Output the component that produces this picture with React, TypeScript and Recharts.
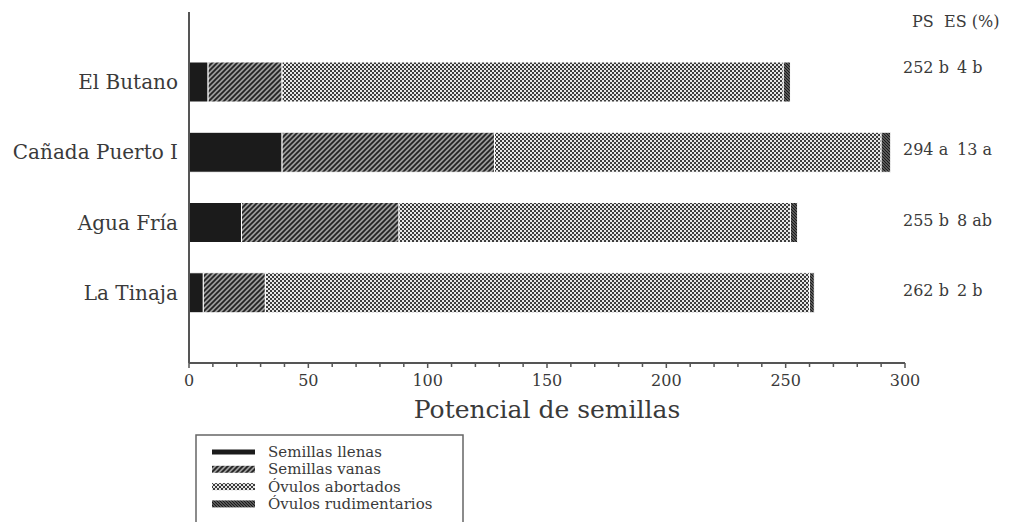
import React from "react";
import { BarChart, Bar, XAxis, YAxis, LabelList } from "recharts";

const sitios = ["El Butano", "Cañada Puerto I", "Agua Fría", "La Tinaja"];
const semillasLlenas = [8, 39, 22, 6];
const semillasVanas = [31, 89, 66, 26];
const ovulosAbortados = [210, 162, 164, 228];
const ovulosRudimentarios = [3, 4, 3, 2];
const potencialSemillas = ["252 b", "294 a", "255 b", "262 b"];
const eficienciaSemillas = ["4 b", "13 a", "8 ab", "2 b"];
const xTicks = [0, 10, 20, 30, 40, 50, 60, 70, 80, 90, 100, 110, 120, 130, 140, 150, 160, 170, 180, 190, 200, 210, 220, 230, 240, 250, 260, 270, 280, 290, 300];
const xTickLabels = [0, 50, 100, 150, 200, 250, 300];

const series = [
  { key: "llenas", name: "Semillas llenas", fill: "#1b1b1b" },
  { key: "vanas", name: "Semillas vanas", fill: "url(#pat-vanas)" },
  { key: "abortados", name: "Óvulos abortados", fill: "url(#pat-abortados)" },
  { key: "rudimentarios", name: "Óvulos rudimentarios", fill: "url(#pat-rudim)" },
];

const data = sitios.map((name, i) => ({
  name,
  llenas: semillasLlenas[i],
  vanas: semillasVanas[i],
  abortados: ovulosAbortados[i],
  rudimentarios: ovulosRudimentarios[i],
  ps: potencialSemillas[i],
  es: eficienciaSemillas[i],
}));

// small vertical nudges for the PS / ES column (first row sits a bit higher)
const labelNudge = [-12, 0, 0, 0];

const FONT = "DejaVu Serif";
const TEXT = "#3a3a3a";
const AXIS = "#555";

function XTick(props: any) {
  const { x, y, payload } = props;
  const showLabel = xTickLabels.includes(payload.value);
  return (
    <g>
      <line x1={x} x2={x} y1={y} y2={y + (showLabel ? 5 : 4)} stroke={AXIS} strokeWidth={1.5} />
      {showLabel && (
        <text x={x} y={y + 23} textAnchor="middle" fontSize={16} fill={TEXT} fontFamily={FONT}>
          {payload.value}
        </text>
      )}
    </g>
  );
}

function RightLabels(props: any) {
  const { index } = props;
  const vb = props.viewBox || {};
  const y0 = props.y ?? vb.y;
  const h = props.height ?? vb.height;
  const cy = y0 + h / 2 + 3 + labelNudge[index];
  return (
    <g fontFamily={FONT} fontSize={16} fill={TEXT}>
      <text x={903} y={cy}>{data[index].ps}</text>
      <text x={957} y={cy}>{data[index].es}</text>
    </g>
  );
}

function Patterns() {
  return (
    <svg width={0} height={0} style={{ position: "absolute" }}>
      <defs>
        <pattern id="pat-vanas" patternUnits="userSpaceOnUse" width={5} height={5}>
          <rect width={5} height={5} fill="#9a9a9a" />
          <path d="M-1,1 l2,-2 M0,5 l5,-5 M4,6 l2,-2" stroke="#222" strokeWidth={1.7} />
        </pattern>
        <pattern id="pat-abortados" patternUnits="userSpaceOnUse" width={4} height={4}>
          <rect width={4} height={4} fill="#e6e6e6" />
          <rect x={0} y={0} width={2} height={2} fill="#3c3c3c" />
          <rect x={2} y={2} width={2} height={2} fill="#3c3c3c" />
        </pattern>
        <pattern id="pat-rudim" patternUnits="userSpaceOnUse" width={3} height={3}>
          <rect width={3} height={3} fill="#888" />
          <path d="M-1,-1 l5,5 M-1,2 l2,2 M2,-1 l2,2" stroke="#1a1a1a" strokeWidth={1.3} />
        </pattern>
      </defs>
    </svg>
  );
}

function LegendBox() {
  return (
    <svg width={270} height={90} style={{ position: "absolute", left: 195, top: 434 }}>
      <path d="M1,90 L1,1 L268,1 L268,90" fill="none" stroke="#666" strokeWidth={1.5} />
      {series.map((s, i) => {
        const base = 23 + i * 17.3;
        const h = i === 0 ? 5 : 7;
        return (
          <g key={s.key}>
            <rect x={17} y={base - 5 - h / 2} width={43} height={h} fill={s.fill} />
            <text x={73} y={base} fontFamily={FONT} fontSize={15} fill={TEXT}>
              {s.name}
            </text>
          </g>
        );
      })}
    </svg>
  );
}

export default function App() {
  return (
    <div style={{ position: "absolute", left: 0, top: 0, width: 1016, height: 522, overflow: "hidden", background: "#fff" }}>
      <Patterns />
      <BarChart
        width={1016}
        height={522}
        data={data}
        layout="vertical"
        margin={{ top: 12, right: 111, bottom: 99, left: 0 }}
        style={{ fontFamily: FONT }}
      >
        <XAxis
          type="number"
          domain={[0, 300]}
          ticks={xTicks}
          interval={0}
          height={60}
          tickLine={false}
          tickSize={0}
          tickMargin={0}
          tick={<XTick />}
          axisLine={{ stroke: AXIS, strokeWidth: 2 }}
          label={{ value: "Potencial de semillas", position: "insideBottom", offset: 5, fontSize: 25, fill: TEXT, fontFamily: FONT }}
        />
        <YAxis
          type="category"
          dataKey="name"
          width={189}
          padding={{ top: 35, bottom: 35 }}
          tickLine={false}
          tickSize={6}
          tickMargin={5}
          axisLine={{ stroke: AXIS, strokeWidth: 2 }}
          tick={{ fontSize: 20, fill: TEXT, fontFamily: FONT }}
        />
        {series.map((s, i) => (
          <Bar
            key={s.key}
            dataKey={s.key}
            name={s.name}
            stackId="a"
            barSize={40}
            fill={s.fill}
            stroke="#fff"
            strokeWidth={1}
            isAnimationActive={false}
          >
            {i === series.length - 1 && <LabelList dataKey="ps" content={<RightLabels />} />}
          </Bar>
        ))}
      </BarChart>
      <svg width={1016} height={40} style={{ position: "absolute", left: 0, top: 0, pointerEvents: "none" }}>
        <text x={912} y={27} fontFamily={FONT} fontSize={16} fill={TEXT}>PS</text>
        <text x={944} y={27} fontFamily={FONT} fontSize={16} fill={TEXT}>ES (%)</text>
      </svg>
      <LegendBox />
    </div>
  );
}
